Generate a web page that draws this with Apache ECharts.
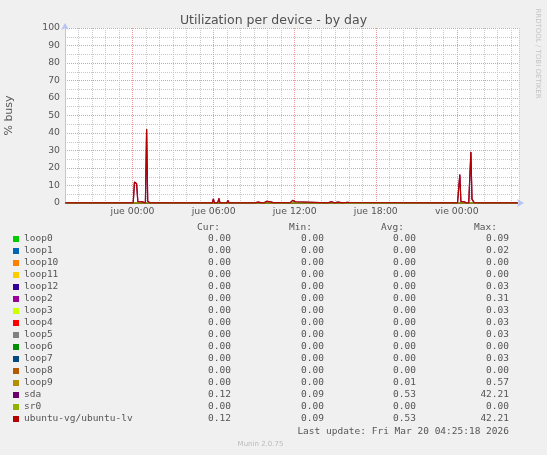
<!DOCTYPE html>
<html>
<head>
<meta charset="utf-8">
<script src="https://cdn.jsdelivr.net/npm/echarts@6.0.0/dist/echarts.min.js"></script>
<style>
html,body{margin:0;padding:0;background:#f0f0f0}
#main{width:547px;height:455px}
</style>
</head>
<body>
<div id="main"></div>
<script>
// device names and munin colours
const names = ['loop0','loop1','loop10','loop11','loop12','loop2','loop3','loop4','loop5','loop6','loop7','loop8','loop9','sda','sr0','ubuntu-vg/ubuntu-lv']
const colors = ['#00CC00','#0066B3','#FF8000','#FFCC00','#330099','#990099','#CCFF00','#FF0000','#808080','#008F00','#00487D','#B35A00','#B38F00','#6B006B','#8FB300','#B30000']
const curVals = ['0.00','0.00','0.00','0.00','0.00','0.00','0.00','0.00','0.00','0.00','0.00','0.00','0.00','0.12','0.00','0.12']
const minVals = ['0.00','0.00','0.00','0.00','0.00','0.00','0.00','0.00','0.00','0.00','0.00','0.00','0.00','0.09','0.00','0.09']
const avgVals = ['0.00','0.00','0.00','0.00','0.00','0.00','0.00','0.00','0.00','0.00','0.00','0.00','0.01','0.53','0.00','0.53']
const maxVals = ['0.09','0.02','0.00','0.00','0.03','0.31','0.03','0.03','0.03','0.00','0.03','0.00','0.57','42.21','0.00','42.21']

// x ticks: hours from jue 00:00
const tickHours = [0, 6, 12, 18, 24]
const tickLabels = ['jue 00:00', 'jue 06:00', 'jue 12:00', 'jue 18:00', 'vie 00:00']

// loops stay at zero all day
const flatLine = [[-4.95, 0], [28.5, 0]]

// ubuntu-vg/ubuntu-lv (sda is the same disk) [hour, % busy]
const lvData = [
  [-4.95,0.1],[-4.6,0.1],[-4.52,0.9],[-4.44,0.1],
  [-4.08,0.1],[-4.0,0.6],[-3.92,0.1],
  [-3.04,0.1],[-2.96,0.6],[-2.88,0.1],
  [-2.03,0.1],[-1.95,0.6],[-1.87,0.1],
  [-1.04,0.1],[-0.96,0.7],[-0.88,0.1],
  [0.05,0.1],[0.14,12.0],[0.22,12.2],[0.3,11.0],[0.39,0.8],[0.47,0.6],[0.56,0.7],[0.64,0.5],[0.72,0.6],[0.8,0.1],
  [0.95,0.1],[1.04,42.2],[1.12,1.0],[1.2,1.8],[1.28,0.1],
  [1.92,0.1],[2.0,0.6],[2.08,0.1],
  [5.9,0.1],[5.98,2.3],[6.06,0.1],
  [6.3,0.1],[6.39,2.6],[6.47,0.1],
  [6.98,0.1],[7.06,1.5],[7.14,0.1],
  [9.05,0.1],[9.13,0.5],[9.3,0.5],[9.38,0.1],
  [9.58,0.1],[9.66,0.5],[9.74,0.1],
  [9.82,0.3],[9.9,0.9],[10.0,1.0],[10.1,0.8],[10.2,0.3],
  [10.5,0.1],[10.59,0.8],[10.67,0.3],[10.8,0.1],
  [11.65,0.1],[11.75,1.0],[11.85,1.5],[11.95,1.2],[12.05,0.7],[12.15,0.1],
  [14.45,0.1],[14.55,0.6],[14.7,0.7],[14.8,0.1],
  [14.98,0.1],[15.06,0.6],[15.2,0.5],[15.3,0.1],
  [15.55,0.1],[15.62,0.4],[15.75,0.3],[15.9,0.4],[16.05,0.3],[16.15,0.1],
  [22.91,0.1],[22.99,0.6],[23.07,0.1],
  [24.05,0.1],[24.14,0.6],[24.22,16.3],[24.3,0.8],[24.4,0.3],[24.5,0.8],[24.6,0.6],[24.7,0.1],
  [24.88,0.1],[24.96,1.2],[25.04,29.2],[25.12,2.2],[25.2,1.5],[25.28,0.2],[25.36,0.1],
  [25.94,0.1],[26.02,0.6],[26.1,0.1],
  [26.93,0.1],[27.01,0.6],[27.09,0.1],
  [28.5,0.12]
]

const MAJOR = '#E49C9C'
const MINOR = '#C8C8C8'
const AXIS = '#B9C4F2'
const TEXT = '#555555'
const MONO = '"DejaVu Sans Mono", monospace'
const SANS = '"DejaVu Sans", sans-serif'

var myChart = echarts.init(document.getElementById('main'))

const series = names.map((n, i) => ({
  name: n,
  type: 'line',
  data: (n === 'sda' || n === 'ubuntu-vg/ubuntu-lv') ? lvData : flatLine,
  showSymbol: false,
  color: colors[i],
  lineStyle: { width: 1.2, color: colors[i] },
  animation: false
}))

myChart.setOption({
  backgroundColor: '#F0F0F0',
  animation: false,
  title: {
    text: 'Utilization per device - by day',
    left: 'center',
    top: 9,
    textStyle: { fontFamily: SANS, fontSize: 12.5, fontWeight: 'normal', color: '#505050' }
  },
  grid: {
    left: 65, right: 28, top: 28, bottom: 252,
    containLabel: false, outerBoundsMode: 'none',
    backgroundColor: '#FFFFFF', show: true, borderWidth: 0
  },
  xAxis: {
    type: 'value',
    min: -5,
    max: 28.6,
    interval: 1,
    axisLine: { show: true, onZero: false, lineStyle: { color: AXIS, width: 1 }, symbol: ['none', 'arrow'], symbolSize: [6, 7], symbolOffset: [0, 5] },
    axisTick: { show: false },
    axisLabel: {
      color: TEXT, fontFamily: SANS, fontSize: 9.3, margin: 4,
      formatter: v => { const k = tickHours.indexOf(Math.round(v * 100) / 100); return k >= 0 ? tickLabels[k] : '' }
    },
    splitLine: { show: true, lineStyle: { color: [MINOR, MINOR, MINOR, MINOR, MINOR, MAJOR], type: [1, 1], width: 1 } }
  },
  yAxis: {
    type: 'value',
    min: 0,
    max: 100,
    interval: 5,
    name: '% busy',
    nameLocation: 'middle',
    nameRotate: 90,
    nameGap: 50,
    nameTextStyle: { color: TEXT, fontFamily: SANS, fontSize: 11 },
    axisLine: { show: true, onZero: false, lineStyle: { color: AXIS, width: 1 }, symbol: ['none', 'arrow'], symbolSize: [6, 7], symbolOffset: [0, 5] },
    axisTick: { show: false },
    axisLabel: {
      color: TEXT, fontFamily: SANS, fontSize: 9.3, margin: 5,
      formatter: v => (v % 10 === 0 ? String(v) : '')
    },
    splitLine: { show: true, lineStyle: { color: [MAJOR, MINOR], type: [1, 1], width: 1 } }
  },
  legend: {
    orient: 'vertical',
    left: 13,
    top: 233,
    padding: 0,
    itemGap: 0,
    itemWidth: 6,
    itemHeight: 6,
    icon: 'rect',
    selectedMode: false,
    data: names,
    textStyle: {
      color: TEXT, fontFamily: MONO, fontSize: 9.5, lineHeight: 12,
      rich: {
        n: { width: 150, fontFamily: MONO, fontSize: 9.5, color: TEXT },
        c: { width: 57, align: 'right', fontFamily: MONO, fontSize: 9.5, color: TEXT },
        m: { width: 93, align: 'right', fontFamily: MONO, fontSize: 9.5, color: TEXT },
        a: { width: 92, align: 'right', fontFamily: MONO, fontSize: 9.5, color: TEXT },
        x: { width: 93, align: 'right', fontFamily: MONO, fontSize: 9.5, color: TEXT }
      }
    },
    formatter: n => {
      const i = names.indexOf(n)
      return `{n|${n}}{c|${curVals[i]}}{m|${minVals[i]}}{a|${avgVals[i]}}{x|${maxVals[i]}}`
    }
  },
  graphic: [
    { type: 'text', x: 220, y: 228, style: { text: 'Cur:', font: '9.5px ' + MONO, fill: TEXT, align: 'right', verticalAlign: 'middle', textAlign: 'right', textVerticalAlign: 'middle' } },
    { type: 'text', x: 312, y: 228, style: { text: 'Min:', font: '9.5px ' + MONO, fill: TEXT, align: 'right', verticalAlign: 'middle', textAlign: 'right', textVerticalAlign: 'middle' } },
    { type: 'text', x: 404, y: 228, style: { text: 'Avg:', font: '9.5px ' + MONO, fill: TEXT, align: 'right', verticalAlign: 'middle', textAlign: 'right', textVerticalAlign: 'middle' } },
    { type: 'text', x: 497, y: 228, style: { text: 'Max:', font: '9.5px ' + MONO, fill: TEXT, align: 'right', verticalAlign: 'middle', textAlign: 'right', textVerticalAlign: 'middle' } },
    { type: 'text', x: 509, y: 432, style: { text: 'Last update: Fri Mar 20 04:25:18 2026', font: '9.5px ' + MONO, fill: TEXT, align: 'right', verticalAlign: 'middle', textAlign: 'right', textVerticalAlign: 'middle' } },
    { type: 'text', x: 260.5, y: 444, style: { text: 'Munin 2.0.75', font: '7px ' + SANS, fill: '#BBBBBB', align: 'center', verticalAlign: 'middle', textAlign: 'center', textVerticalAlign: 'middle' } },
    { type: 'text', x: 537.5, y: 53.5, rotation: -Math.PI / 2, style: { text: 'RRDTOOL / TOBI OETIKER', font: '7px ' + SANS, fill: '#C4C4C4', align: 'center', verticalAlign: 'middle', textAlign: 'center', textVerticalAlign: 'middle' } }
  ],
  series: series
})
</script>
</body>
</html>
